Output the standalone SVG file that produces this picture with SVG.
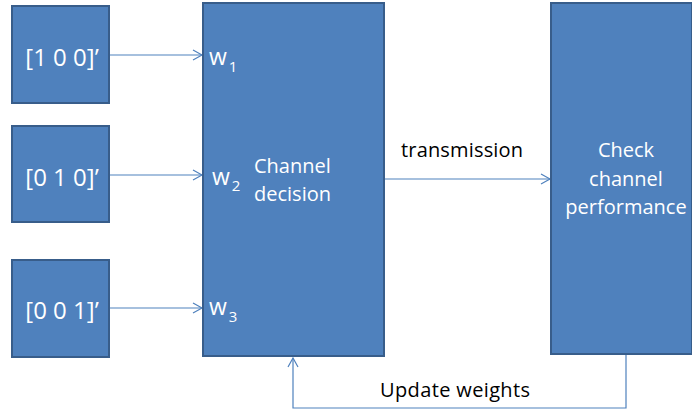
<svg xmlns="http://www.w3.org/2000/svg" width="692" height="412" viewBox="0 0 692 412">
<defs>
<marker id="arr" markerWidth="12" markerHeight="12" refX="10" refY="6" orient="auto" markerUnits="userSpaceOnUse">
<path d="M1,1 L10,6 L1,11" fill="none" stroke="#4F81BD" stroke-width="1.2"/>
</marker>
<style>
.box{fill:#4F81BD;stroke:#385D8A;stroke-width:2}
.lbl{font-family:"Open Sans","Liberation Sans",sans-serif;fill:#fff}
.blk{font-family:"Open Sans","Liberation Sans",sans-serif;fill:#000}
.ln{fill:none;stroke:#4F81BD;stroke-width:1.2}
</style>
</defs>
<rect width="692" height="412" fill="#fff"/>
<g id="connectors">
<line class="ln" x1="110" y1="55" x2="202" y2="55" marker-end="url(#arr)"/>
<line class="ln" x1="110" y1="175" x2="202" y2="175" marker-end="url(#arr)"/>
<line class="ln" x1="110" y1="308" x2="202" y2="308" marker-end="url(#arr)"/>
<line class="ln" x1="385" y1="179" x2="550" y2="179" marker-end="url(#arr)"/>
<polyline class="ln" points="626,355 626,408 293,408 293,358" marker-end="url(#arr)"/>
<text class="blk" x="401" y="157" font-size="20" textLength="122">transmission</text>
<text class="blk" x="380" y="397" font-size="20" textLength="150">Update weights</text>
</g>
<g id="n1">
<rect class="box" x="12" y="6" width="97" height="97"/>
<text class="lbl" x="62" y="66" font-size="24" text-anchor="middle">[1 0 0]’</text>
</g>
<g id="n2">
<rect class="box" x="12" y="126" width="97" height="96"/>
<text class="lbl" x="62" y="186" font-size="24" text-anchor="middle">[0 1 0]’</text>
</g>
<g id="n3">
<rect class="box" x="12" y="260" width="97" height="97"/>
<text class="lbl" x="62" y="319" font-size="24" text-anchor="middle">[0 0 1]’</text>
</g>
<g id="decision">
<rect class="box" x="203" y="3" width="181" height="353"/>
<text class="lbl" x="209" y="65" font-size="23">w<tspan font-size="15" dx="2" dy="7">1</tspan></text>
<text class="lbl" x="212" y="185" font-size="23">w<tspan font-size="15" dx="2" dy="6">2</tspan></text>
<text class="lbl" x="209" y="315" font-size="23">w<tspan font-size="15" dx="2" dy="7">3</tspan></text>
<text class="lbl" x="254" y="173" font-size="20">Channel</text>
<text class="lbl" x="254" y="201" font-size="20">decision</text>
</g>
<g id="check">
<rect class="box" x="551" y="3" width="141" height="351"/>
<text class="lbl" x="626" y="157" font-size="20" text-anchor="middle">Check</text>
<text class="lbl" x="626" y="186" font-size="20" text-anchor="middle">channel</text>
<text class="lbl" x="626" y="214" font-size="20" text-anchor="middle">performance</text>
</g>
</svg>
